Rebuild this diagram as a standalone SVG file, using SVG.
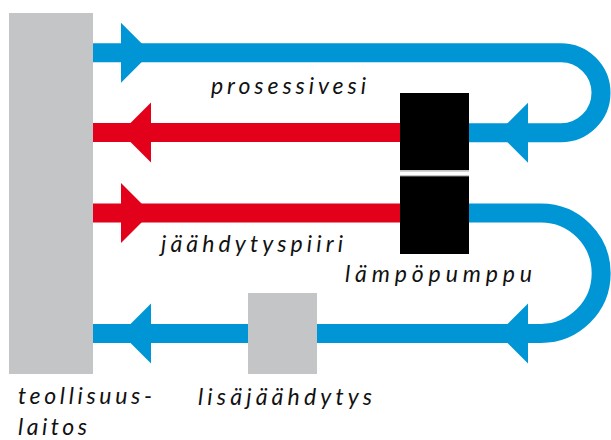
<svg xmlns="http://www.w3.org/2000/svg" xmlns:xlink="http://www.w3.org/1999/xlink" width="611" height="440" viewBox="0 0 611 440">
<style>
.blue{fill:none;stroke:#0096d6;stroke-width:19}
.red{fill:none;stroke:#e2001a;stroke-width:19}
.ab{fill:#0096d6}
.ar{fill:#e2001a}
.gray{fill:#c4c5c7}
.blk{fill:#000}
.lbl{font-family:Lato,"Open Sans","Liberation Sans",sans-serif;font-style:italic;font-size:23px;fill:#111}
</style>
<defs>
<path id="tipR" d="M0,0 L-30,-30 L-30,30 Z"/>
<path id="tipL" d="M0,0 L30,-30 L30,30 Z"/>
</defs>
<g id="connectors">
<path class="blue" d="M93,52.8 H561 A40,40 0 0 1 561,132.8 H469"/>
<path class="red" d="M93,132.5 H400"/>
<path class="red" d="M93,213 H400"/>
<path class="blue" d="M469,213 H541 A60.2,60.2 0 0 1 541,333.4 H317"/>
<path class="blue" d="M248,333.4 H93"/>
<use href="#tipR" class="ab" x="151" y="52.8"/>
<use href="#tipL" class="ar" x="121" y="132.5"/>
<use href="#tipR" class="ar" x="151" y="213"/>
<use href="#tipL" class="ab" x="121" y="333.4"/>
<use href="#tipL" class="ab" x="498" y="132.8"/>
<use href="#tipL" class="ab" x="498" y="333.4"/>
</g>
<g id="teollisuuslaitos">
<rect class="gray" x="9" y="13" width="84" height="361"/>
<text class="lbl" x="18" y="404" textLength="134" lengthAdjust="spacing">teollisuus-</text>
<text class="lbl" x="18" y="435" textLength="69" lengthAdjust="spacing">laitos</text>
</g>
<g id="lampopumppu">
<rect class="blk" x="400" y="93" width="69" height="77"/>
<rect class="gray" x="400" y="170" width="69" height="1.7"/>
<rect class="gray" x="400" y="175" width="69" height="1.3"/>
<rect class="blk" x="400" y="176.3" width="69" height="77.7"/>
<text class="lbl" x="345" y="282" textLength="187" lengthAdjust="spacing">lämpöpumppu</text>
</g>
<g id="lisajaahdytys">
<rect class="gray" x="248" y="293" width="69" height="81"/>
<text class="lbl" x="198" y="405" textLength="174" lengthAdjust="spacing">lisäjäähdytys</text>
</g>
<g id="labels">
<text class="lbl" x="211" y="94" textLength="155" lengthAdjust="spacing">prosessivesi</text>
<text class="lbl" x="161" y="252" textLength="182" lengthAdjust="spacing">jäähdytyspiiri</text>
</g>
</svg>
